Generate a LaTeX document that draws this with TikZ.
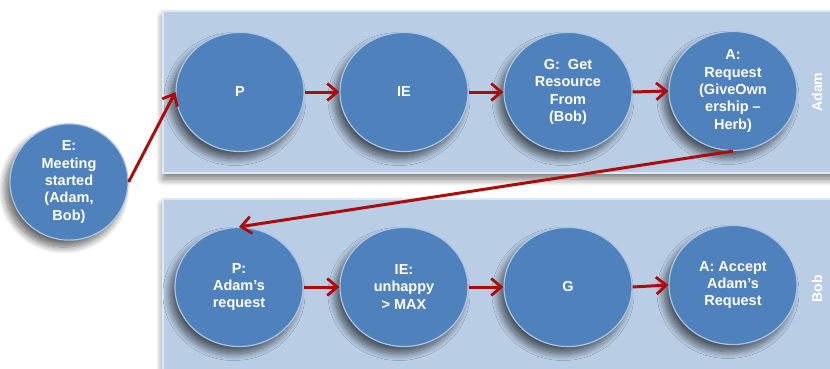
\documentclass[tikz,border=0pt]{standalone}
\usepackage{fontspec}
\setmainfont{Liberation Sans}
\usetikzlibrary{shapes.geometric,arrows.meta,shadows.blur}
\definecolor{lanefill}{RGB}{185,205,229}
\definecolor{laneedge}{RGB}{222,232,244}
\definecolor{ballfill}{RGB}{79,129,189}
\definecolor{ballrim}{RGB}{170,196,228}
\definecolor{flowred}{RGB}{172,12,12}
\tikzset{
  lane/.style={fill=lanefill,
    blur shadow={shadow xshift=0pt, shadow yshift=-6pt, shadow blur radius=7pt,
      shadow blur steps=12, shadow opacity=55}},
  ball/.style={ellipse, fill=ballfill, draw=ballrim, line width=1.2pt,
    minimum width=128pt, minimum height=119pt, inner sep=0pt,
    text=white, font=\fontsize{14.5}{17.3}\selectfont\bfseries, align=center,
    blur shadow={shadow xshift=-5pt, shadow yshift=-7pt, shadow blur radius=7pt,
      shadow blur steps=12, shadow opacity=60}},
  lanelabel/.style={rotate=90, text=white, font=\fontsize{14}{16}\selectfont\bfseries},
  flow/.style={draw=flowred, line width=3pt,
    -{Straight Barb[length=10pt,width=17pt,line width=2.8pt]}}
}
\begin{document}
\begin{tikzpicture}[x=1pt, y=-1pt]
\useasboundingbox (0,0) rectangle (830,369);
% swim lanes
\fill[lane] (163,11) rectangle (840,173);
\fill[lane] (163,199) rectangle (840,380);
\draw[laneedge, line width=1.5pt] (163,11) rectangle (840,173);
\draw[laneedge, line width=1.5pt] (163,199) rectangle (840,380);
\node[lanelabel] (adam) at (817,92) {Adam};
\node[lanelabel] (bob) at (817,289) {Bob};
% start event
\node[ball, minimum width=118pt, minimum height=109pt] (E) at (69,182)
  {E:\\Meeting\\started\\(Adam,\\Bob)};
% Adam's lane
\node[ball] (P1) at (240,92) {P};
\node[ball] (IE1) at (404,92) {IE};
\node[ball] (G1) at (568,92) {G:\ \ Get\\Resource\\From\\(Bob)};
\node[ball] (A1) at (733,91) {A:\\Request\\(GiveOwn\\ership --\\Herb)};
% Bob's lane
\node[ball] (P2) at (239,287) {P:\\Adam's\\request};
\node[ball] (IE2) at (404,287) {IE:\\unhappy\\> MAX};
\node[ball] (G2) at (568,287) {G};
\node[ball] (A2) at (733,285) {A: Accept\\Adam's\\Request};
% transitions
\draw[flow] (E.east) -- (P1.west);
\draw[flow] (P1.east) -- (IE1.west);
\draw[flow] (IE1.east) -- (G1.west);
\draw[flow] (G1.east) -- (A1.west);
\draw[flow] (A1.south) -- (P2.north);
\draw[flow] (P2.east) -- (IE2.west);
\draw[flow] (IE2.east) -- (G2.west);
\draw[flow] (G2.east) -- (A2.west);
\end{tikzpicture}
\end{document}
